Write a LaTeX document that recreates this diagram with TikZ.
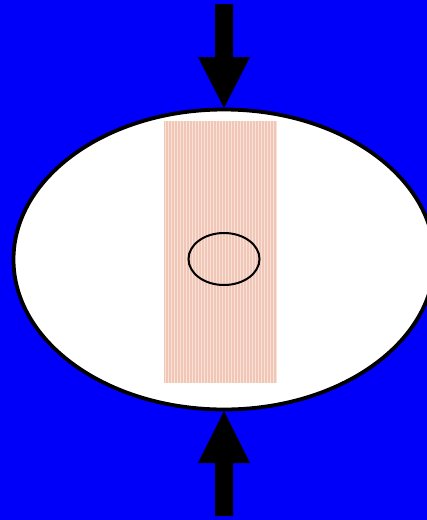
\documentclass[tikz,border=0pt]{standalone}
\usetikzlibrary{patterns}
\definecolor{bgblue}{RGB}{0,0,250}
\definecolor{stripepink}{RGB}{240,198,182}
\definecolor{stripelight}{RGB}{250,226,216}
\tikzset{
  bigarrow/.style={fill=black, draw=none},
  outerring/.style={draw=black, fill=white, line width=3.8pt},
  innerring/.style={draw=black, line width=2pt},
}
\begin{document}
\begin{tikzpicture}[x=1pt,y=-1pt]
\useasboundingbox (0,0) rectangle (427,520);
\fill[bgblue] (0,0) rectangle (427,520);
\begin{scope}
\clip (0,0) rectangle (427,520);
\draw[outerring] (224,259.5) ellipse [x radius=210.5, y radius=150];
\end{scope}
% pink stripe
\fill[stripepink] (164,121) rectangle (277,383);
\foreach \i in {0,...,37} {
  \draw[stripelight, line width=0.8pt] (165.5+3*\i,121) -- (165.5+3*\i,383);
}
\draw[innerring] (224,259) ellipse [x radius=35.5, y radius=26];
% top arrow
\path[bigarrow] (215,4) -- (233,4) -- (233,57) -- (250,57) -- (224,108) -- (198,57) -- (215,57) -- cycle;
% bottom arrow
\path[bigarrow] (215,516) -- (233,516) -- (233,463) -- (250,463) -- (224,411) -- (198,463) -- (215,463) -- cycle;
\end{tikzpicture}
\end{document}
